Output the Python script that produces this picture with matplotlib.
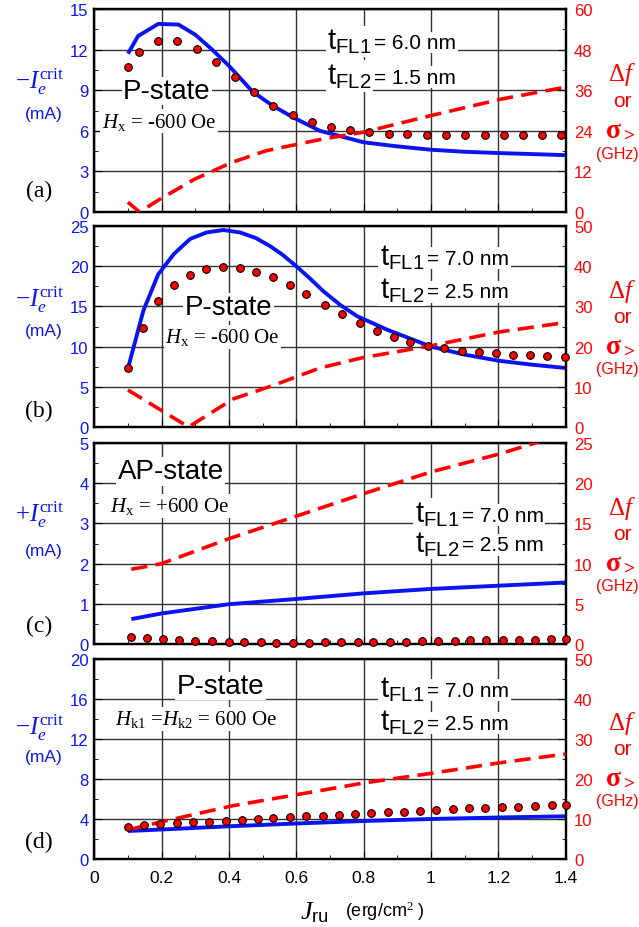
import matplotlib
matplotlib.use("Agg")
import matplotlib.pyplot as plt
from matplotlib.ticker import MultipleLocator, FuncFormatter

plt.rcParams['mathtext.fontset'] = 'custom'
plt.rcParams['mathtext.rm'] = 'Liberation Serif'
plt.rcParams['mathtext.it'] = 'Liberation Serif:italic'
plt.rcParams['mathtext.bf'] = 'Liberation Serif:bold'
plt.rcParams['mathtext.sf'] = 'Liberation Sans'
plt.rcParams['font.family'] = ['Liberation Sans', 'DejaVu Sans']

BLUE = '#0a14f0'
RED = '#ff0000'

# ---------------- data ----------------
# panel (a)
xa_I = [0.10, 0.13, 0.19, 0.25, 0.30, 0.35, 0.40, 0.47, 0.53, 0.59, 0.67, 0.80, 0.90, 1.00, 1.10, 1.21, 1.30, 1.40]
Ia = [11.7, 13.0, 13.9, 13.85, 13.1, 12.0, 10.8, 8.9, 7.85, 7.0, 6.0, 5.15, 4.85, 4.6, 4.45, 4.35, 4.28, 4.2]
xa_f = [0.10, 0.134, 0.195, 0.30, 0.41, 0.51, 0.67, 0.80, 1.00, 1.21, 1.40]
fa = [2.9, 0.0, 3.8, 9.8, 14.7, 18.1, 21.4, 23.6, 28.5, 33.4, 36.9]
xa_s = [0.10, 0.134, 0.19, 0.247, 0.304, 0.362, 0.418, 0.475, 0.532, 0.59, 0.646, 0.703,
        0.76, 0.817, 0.874, 0.93, 0.988, 1.045, 1.102, 1.16, 1.216, 1.273, 1.33, 1.386]
sa = [42.8, 47.4, 50.4, 50.4, 48.2, 44.4, 40.0, 35.4, 31.4, 28.7, 26.7, 25.2,
      24.3, 23.6, 23.2, 23.0, 22.9, 22.9, 22.9, 22.9, 22.9, 22.9, 22.9, 22.9]

# panel (b)
xb_I = [0.10, 0.146, 0.19, 0.236, 0.285, 0.334, 0.383, 0.433, 0.48, 0.522, 0.56, 0.60, 0.64, 0.68, 0.73,
        0.78, 0.87, 1.00, 1.10, 1.20, 1.30, 1.40]
Ib = [7.3, 14.5, 19.0, 21.5, 23.4, 24.2, 24.5, 24.2, 23.5, 22.5, 21.4, 20.0, 18.5, 16.9, 15.2,
      13.8, 12.1, 10.0, 9.0, 8.25, 7.75, 7.34]
xb_f = [0.10, 0.28, 0.413, 0.53, 0.671, 0.80, 1.00, 1.20, 1.40]
fb = [9.2, 0.0, 7.0, 10.3, 14.7, 17.3, 20.2, 23.6, 26.0]
xb_s = [0.10, 0.144, 0.19, 0.236, 0.285, 0.333, 0.383, 0.432, 0.48, 0.53, 0.58, 0.63, 0.686, 0.737,
        0.788, 0.84, 0.889, 0.938, 0.99, 1.04, 1.092, 1.144, 1.194, 1.244, 1.295, 1.345, 1.397]
sb = [14.6, 24.6, 31.4, 35.4, 37.9, 39.4, 39.8, 39.6, 38.6, 37.2, 35.2, 33.0, 30.4, 28.1,
      25.8, 23.8, 22.3, 21.2, 20.2, 19.6, 19.0, 18.7, 18.3, 18.0, 17.8, 17.6, 17.5]

# panel (c)
xc_I = [0.11, 0.20, 0.40, 0.60, 0.80, 1.00, 1.20, 1.40]
Ic = [0.62, 0.76, 0.99, 1.12, 1.26, 1.37, 1.45, 1.53]
xc_f = [0.11, 0.15, 0.20, 0.40, 0.60, 0.80, 1.00, 1.20, 1.31, 1.40]
fc = [9.3, 9.6, 10.0, 13.1, 15.9, 18.7, 21.4, 23.6, 25.0, 26.4]
xc_s = [0.109, 0.156, 0.205, 0.253, 0.30, 0.35, 0.40, 0.445, 0.494, 0.54, 0.59, 0.638, 0.686, 0.733,
        0.782, 0.829, 0.877, 0.926, 0.973, 1.02, 1.07, 1.117, 1.165, 1.213, 1.262, 1.31, 1.357, 1.40]
sc = [0.9, 0.75, 0.62, 0.5, 0.4, 0.33, 0.25, 0.2, 0.2, 0.18, 0.15, 0.15, 0.2, 0.2,
      0.2, 0.3, 0.3, 0.3, 0.35, 0.4, 0.4, 0.45, 0.45, 0.5, 0.5, 0.55, 0.6, 0.6]

# panel (d)
xd_I = [0.10, 0.20, 0.40, 0.60, 0.80, 1.00, 1.20, 1.40]
Id = [2.8, 2.95, 3.27, 3.55, 3.8, 4.0, 4.15, 4.27]
xd_f = [0.10, 0.20, 0.41, 0.671, 0.80, 1.00, 1.20, 1.40]
fd = [7.3, 9.3, 13.3, 17.1, 19.0, 21.4, 24.0, 26.25]
xd_s = [0.10, 0.148, 0.196, 0.245, 0.293, 0.342, 0.39, 0.44, 0.485, 0.532, 0.582, 0.63, 0.68, 0.727,
        0.775, 0.823, 0.872, 0.92, 0.968, 1.016, 1.065, 1.113, 1.162, 1.211, 1.26, 1.31, 1.36, 1.40]
sd = [8.1, 8.5, 8.7, 9.0, 9.2, 9.3, 9.6, 9.8, 10.0, 10.2, 10.4, 10.7, 10.8, 11.1,
      11.25, 11.5, 11.7, 11.8, 12.0, 12.25, 12.4, 12.7, 12.8, 13.0, 13.1, 13.25, 13.4, 13.6]

panels = [
    dict(xI=xa_I, I=Ia, xf=xa_f, f=fa, xs=xa_s, s=sa, lmax=15, lstep=3, rmax=60, rstep=12,
         sign='-', lab='(a)', state='P-state', field=r'$H_{\mathrm{x}}$ = -600 Oe',
         t1='6.0', t2='1.5', pos=(0.061, 0.596, 0.016, 0.448, 0.494, 0.842, 0.67),
         lab_y=0.108, ylab_y=(0.645, 0.483)),
    dict(xI=xb_I, I=Ib, xf=xb_f, f=fb, xs=xb_s, s=sb, lmax=25, lstep=5, rmax=50, rstep=10,
         sign='-', lab='(b)', state='P-state', field=r'$H_{\mathrm{x}}$ = -600 Oe',
         t1='7.0', t2='2.5', pos=(0.192, 0.597, 0.15, 0.448, 0.606, 0.846, 0.68),
         lab_y=0.08, ylab_y=(0.637, 0.478)),
    dict(xI=xc_I, I=Ic, xf=xc_f, f=fc, xs=xc_s, s=sc, lmax=5, lstep=1, rmax=25, rstep=5,
         sign='+', lab='(c)', state='AP-state', field=r'$H_{\mathrm{x}}$ = +600 Oe',
         t1='7.0', t2='2.5', pos=(0.05, 0.86, 0.034, 0.687, 0.68, 0.647, 0.50),
         lab_y=0.09, ylab_y=(0.647, 0.463)),
    dict(xI=xd_I, I=Id, xf=xd_f, f=fd, xs=xd_s, s=sd, lmax=20, lstep=4, rmax=50, rstep=10,
         sign='-', lab='(d)', state='P-state',
         field=r'$H_{\mathrm{k1}}$ =$H_{\mathrm{k2}}$ = 600 Oe',
         t1='7.0', t2='2.5', pos=(0.175, 0.865, 0.044, 0.70, 0.606, 0.85, 0.685),
         lab_y=0.09, ylab_y=(0.66, 0.51)),
]

W, H = 639, 928
fig = plt.figure(figsize=(W / 100, H / 100), dpi=100)
tops = [10, 227, 444, 660]
bots = [213, 428, 645, 860]
left_px, right_px = 94.3, 565.6

box = dict(facecolor='white', edgecolor='none', pad=1.0)

for i, p in enumerate(panels):
    ax = fig.add_axes([left_px / W, 1 - bots[i] / H, (right_px - left_px) / W, (bots[i] - tops[i]) / H])
    ax2 = ax.twinx()
    ax.set_xlim(0, 1.4)
    ax.set_ylim(0, p['lmax'])
    ax2.set_ylim(0, p['rmax'])
    ax.xaxis.set_major_locator(MultipleLocator(0.2))
    ax.xaxis.set_minor_locator(MultipleLocator(0.1))
    ax.xaxis.set_major_formatter(FuncFormatter(lambda v, pos: '%g' % round(v, 3)))
    ax.yaxis.set_major_locator(MultipleLocator(p['lstep']))
    ax.yaxis.set_minor_locator(MultipleLocator(p['lstep'] / 2))
    ax2.yaxis.set_major_locator(MultipleLocator(p['rstep']))
    ax2.yaxis.set_minor_locator(MultipleLocator(p['rstep'] / 2))
    ax.grid(True, which='major', color='0.2', lw=1.0)
    ax.set_axisbelow(True)
    ax.tick_params(axis='both', which='both', direction='in', top=False)
    ax.tick_params(axis='y', which='major', length=6, labelsize=12, labelcolor=BLUE, pad=4)
    ax.tick_params(axis='y', which='minor', length=3)
    ax.tick_params(axis='x', which='major', length=6, labelsize=12.5, pad=8)
    ax.tick_params(axis='x', which='minor', length=3)
    ax2.tick_params(axis='y', which='major', direction='in', length=6, labelsize=12, labelcolor=RED, pad=6)
    ax2.tick_params(axis='y', which='minor', direction='in', length=3)
    if i < 3:
        ax.tick_params(axis='x', labelbottom=False)
    for a in (ax, ax2):
        for sp in a.spines.values():
            sp.set_linewidth(1.6)
            sp.set_color('black')

    ax2.plot(p['xf'], p['f'], color=RED, lw=2.6, ls=(0, (4.5, 2.3)), clip_on=True, zorder=3)
    ax.plot(p['xI'], p['I'], color=BLUE, lw=2.8, zorder=4, solid_capstyle='butt')
    ax2.plot(p['xs'], p['s'], ls='none', marker='o', ms=5.5, mfc=RED, mec='black', mew=0.8,
             clip_on=False, zorder=5)

    sx, sy, hx, hy, tx, ty1, ty2 = p['pos']
    ax.text(sx, sy, p['state'], transform=ax.transAxes, fontsize=20, va='center', ha='left',
            bbox=box, zorder=6)
    ax.text(hx, hy, p['field'], transform=ax.transAxes, fontsize=15, va='center', ha='left',
            family='Liberation Serif', bbox=box, zorder=6)
    for ty, tn, tv in ((ty1, '1', p['t1']), (ty2, '2', p['t2'])):
        ax.text(tx, ty, r'$\mathsf{t}_{\mathsf{FL%s}}$' % tn, transform=ax.transAxes, fontsize=21,
                va='center', ha='left', bbox=box, zorder=6)
        ax.annotate('= %s nm' % tv, xy=(tx, ty), xycoords='axes fraction', xytext=(34, -1),
                    textcoords='offset points', fontsize=15, va='center', ha='left',
                    bbox=box, zorder=6)

    # panel letter
    ax.text(-0.118, p['lab_y'], p['lab'], transform=ax.transAxes, fontsize=17,
            family='Liberation Serif', va='center', ha='center')
    # left label
    ax.text(-0.115, p['ylab_y'][0], r'$%s I_e^{\mathrm{crit}}$' % ('-' if p['sign'] == '-' else '+'),
            transform=ax.transAxes, fontsize=18, color=BLUE, va='center', ha='center')
    ax.text(-0.107, p['ylab_y'][1], '(mA)', transform=ax.transAxes, fontsize=12.5,
            color=BLUE, va='center', ha='center')
    # right label
    ax.text(1.12, 0.68, r'$\Delta f$', transform=ax.transAxes, fontsize=18, color=RED,
            va='center', ha='center')
    ax.text(1.12, 0.55, 'or', transform=ax.transAxes, fontsize=15, color=RED,
            va='center', ha='center')
    ax.text(1.115, 0.41, r'$\mathbf{\sigma}_{\mathbf{>}}$', transform=ax.transAxes, fontsize=20,
            color=RED, va='center', ha='center')
    ax.text(1.11, 0.29, '(GHz)', transform=ax.transAxes, fontsize=11.5, color=RED,
            va='center', ha='center')

# x label
fig.text(300 / W, 1 - 913 / H, r'$J_{\mathsf{ru}}$', fontsize=19, va='center', ha='left')
fig.text(345 / W, 1 - 911 / H, '(erg/cm$^{2}$ )', fontsize=13, va='center', ha='left')

fig.savefig('out.png', dpi=100)
